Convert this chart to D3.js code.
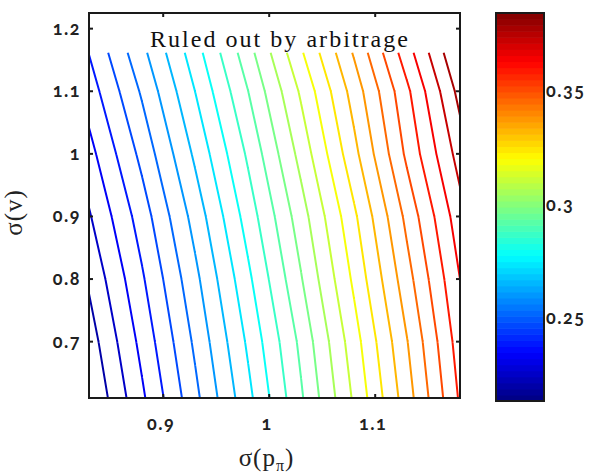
<!DOCTYPE html>
<html>
<head>
<meta charset="utf-8">
<script src="https://cdn.jsdelivr.net/npm/d3@7"></script>
<style>
  html, body { margin: 0; padding: 0; background: #fff; }
  svg { display: block; }
  .tick-label { font-family: Lato, "Noto Sans", sans-serif; font-weight: bold; font-size: 18px; font-variant-numeric: oldstyle-nums; font-feature-settings: "onum" 1; fill: #222; letter-spacing: 1.5px; }
  .axis-label { font-family: "Liberation Serif", serif; font-size: 25px; fill: #222; letter-spacing: 1px; }
  .note { font-family: "Liberation Serif", serif; font-size: 24px; fill: #111; }
</style>
</head>
<body>
<svg id="chart" width="597" height="474"></svg>
<script>
// ---- data ----
const xCols = [0.83, 0.88, 0.93, 0.98, 1.03, 1.08, 1.13, 1.18];   // sigma(p_pi) grid
const yRows = [0.61, 0.70, 0.80, 0.90, 1.00, 1.10, 1.16];         // sigma(v) grid (data stops at 1.16)
const zAt061 = [0.2134, 0.2319, 0.2510, 0.2707, 0.2914, 0.3130, 0.3353, 0.3589];
const zAt070 = [0.2167, 0.2351, 0.2540, 0.2737, 0.2939, 0.3157, 0.3380, 0.3613];
const zAt080 = [0.2210, 0.2388, 0.2576, 0.2776, 0.2983, 0.3199, 0.3423, 0.3646];
const zAt090 = [0.2258, 0.2429, 0.2619, 0.2820, 0.3024, 0.3238, 0.3467, 0.3686];
const zAt100 = [0.2308, 0.2482, 0.2672, 0.2868, 0.3077, 0.3297, 0.3528, 0.3741];
const zAt110 = [0.2363, 0.2537, 0.2726, 0.2922, 0.3130, 0.3345, 0.3566, 0.3800];
const zAt116 = [0.2398, 0.2575, 0.2761, 0.2961, 0.3176, 0.3389, 0.3616, 0.3847];
const contourLevels = [0.2200, 0.2265, 0.2331, 0.2397, 0.2463, 0.2528, 0.2594, 0.2660, 0.2726, 0.2791,
                       0.2857, 0.2923, 0.2988, 0.3054, 0.3120, 0.3186, 0.3251, 0.3317, 0.3383, 0.3449,
                       0.3514, 0.3580, 0.3646, 0.3712, 0.3777];
const colorRange = [0.2134, 0.3845];
const xTicks = [0.9, 1.0, 1.1];
const xTickLabels = ["0.9", "1", "1.1"];
const yTicks = [0.7, 0.8, 0.9, 1.0, 1.1, 1.2];
const yTickLabels = ["0.7", "0.8", "0.9", "1", "1.1", "1.2"];
const cbTicks = [0.25, 0.30, 0.35];
const cbTickLabels = ["0.25", "0.3", "0.35"];
const noteText = "Ruled out by arbitrage";

const zGrid = [zAt061, zAt070, zAt080, zAt090, zAt100, zAt110, zAt116];

// ---- layout ----
const svg = d3.select("#chart");
const plot = { left: 89, right: 460, top: 13, bottom: 398 };
const cb = { left: 496, right: 544, top: 13, bottom: 401 };

const x = d3.scaleLinear().domain([0.83, 1.18]).range([plot.left, plot.right]);
const y = d3.scaleLinear().domain([0.61, 1.225]).range([plot.bottom, plot.top]);
const cy = d3.scaleLinear().domain(colorRange).range([cb.bottom, cb.top]);

function jet(t) {
  const c = v => Math.max(0, Math.min(1, v));
  const q = (Math.min(63, Math.floor(t * 64)) + 0.5) / 64;
  const r = c(Math.min(4 * q - 1.5, -4 * q + 4.5));
  const g = c(Math.min(4 * q - 0.5, -4 * q + 3.5));
  const b = c(Math.min(4 * q + 0.5, -4 * q + 2.5));
  return d3.rgb(r * 255, g * 255, b * 255).formatHex();
}
const colorOf = v => jet((v - colorRange[0]) / (colorRange[1] - colorRange[0]));

// marching squares over the grid
function segmentsFor(t) {
  const segs = [];
  for (let j = 0; j < yRows.length - 1; j++) {
    for (let i = 0; i < xCols.length - 1; i++) {
      const corners = [[i, j], [i + 1, j], [i + 1, j + 1], [i, j + 1]];
      const pts = [];
      for (let e = 0; e < 4; e++) {
        const [ia, ja] = corners[e], [ib, jb] = corners[(e + 1) % 4];
        const a = zGrid[ja][ia], b = zGrid[jb][ib];
        if ((a >= t) !== (b >= t)) {
          const f = (t - a) / (b - a);
          pts.push([xCols[ia] + (xCols[ib] - xCols[ia]) * f, yRows[ja] + (yRows[jb] - yRows[ja]) * f]);
        }
      }
      if (pts.length === 2) segs.push(pts);
      else if (pts.length === 4) { segs.push([pts[0], pts[1]]); segs.push([pts[2], pts[3]]); }
    }
  }
  return segs;
}

const line = d3.line().x(d => x(d[0])).y(d => y(d[1]));

svg.append("clipPath").attr("id", "clip").append("rect")
  .attr("x", plot.left).attr("y", plot.top)
  .attr("width", plot.right - plot.left).attr("height", plot.bottom - plot.top);

const gLines = svg.append("g").attr("clip-path", "url(#clip)");
contourLevels.forEach(t => {
  const segs = segmentsFor(t);
  gLines.append("path")
    .attr("d", segs.map(s => line(s)).join(""))
    .attr("fill", "none")
    .attr("stroke", colorOf(t))
    .attr("stroke-width", 2)
    .attr("stroke-linecap", "square");
});

// frame
svg.append("rect")
  .attr("x", plot.left).attr("y", plot.top)
  .attr("width", plot.right - plot.left).attr("height", plot.bottom - plot.top)
  .attr("fill", "none").attr("stroke", "#1a1a1a").attr("stroke-width", 2);

const tl = 4;
const gAx = svg.append("g").attr("stroke", "#1a1a1a").attr("stroke-width", 2);
xTicks.forEach(v => {
  gAx.append("line").attr("x1", x(v)).attr("x2", x(v)).attr("y1", plot.bottom).attr("y2", plot.bottom - tl);
  gAx.append("line").attr("x1", x(v)).attr("x2", x(v)).attr("y1", plot.top).attr("y2", plot.top + tl);
});
yTicks.forEach(v => {
  gAx.append("line").attr("x1", plot.left).attr("x2", plot.left + tl).attr("y1", y(v)).attr("y2", y(v));
  gAx.append("line").attr("x1", plot.right).attr("x2", plot.right - tl).attr("y1", y(v)).attr("y2", y(v));
});

xTicks.forEach((v, i) => {
  svg.append("text").attr("class", "tick-label")
    .attr("x", x(v) - 2).attr("y", 430).attr("text-anchor", "middle").text(xTickLabels[i]);
});
yTicks.forEach((v, i) => {
  svg.append("text").attr("class", "tick-label")
    .attr("x", 81).attr("y", y(v) + 6).attr("text-anchor", "end").text(yTickLabels[i]);
});

// axis labels
svg.append("text").attr("class", "axis-label")
  .attr("transform", `translate(22, ${(plot.top + plot.bottom) / 2 + 7}) rotate(-90)`)
  .attr("text-anchor", "middle").text("σ(v)");
const xl = svg.append("text").attr("class", "axis-label")
  .attr("x", (plot.left + plot.right) / 2 - 8).attr("y", 466).attr("text-anchor", "middle");
xl.append("tspan").text("σ(p");
xl.append("tspan").attr("font-size", 16).attr("dy", 5).text("π");
xl.append("tspan").attr("dy", -5).text(")");

// note
svg.append("text").attr("class", "note")
  .attr("x", 150).attr("y", 47).attr("textLength", 258).attr("lengthAdjust", "spacing")
  .text(noteText);

// colorbar
const nBands = 64;
const bandH = (cb.bottom - cb.top) / nBands;
d3.range(nBands).forEach(k => {
  svg.append("rect")
    .attr("x", cb.left).attr("width", cb.right - cb.left)
    .attr("y", cb.bottom - (k + 1) * bandH).attr("height", bandH + 0.6)
    .attr("fill", jet((k + 0.5) / nBands));
});
svg.append("rect")
  .attr("x", cb.left).attr("y", cb.top)
  .attr("width", cb.right - cb.left).attr("height", cb.bottom - cb.top)
  .attr("fill", "none").attr("stroke", "#1a1a1a").attr("stroke-width", 2);
cbTicks.forEach((v, i) => {
  gAx.append("line").attr("x1", cb.left).attr("x2", cb.left + tl).attr("y1", cy(v)).attr("y2", cy(v));
  gAx.append("line").attr("x1", cb.right).attr("x2", cb.right - tl).attr("y1", cy(v)).attr("y2", cy(v));
  svg.append("text").attr("class", "tick-label")
    .attr("x", cb.right + 2).attr("y", cy(v) + 6).text(cbTickLabels[i]);
});
</script>
</body>
</html>
